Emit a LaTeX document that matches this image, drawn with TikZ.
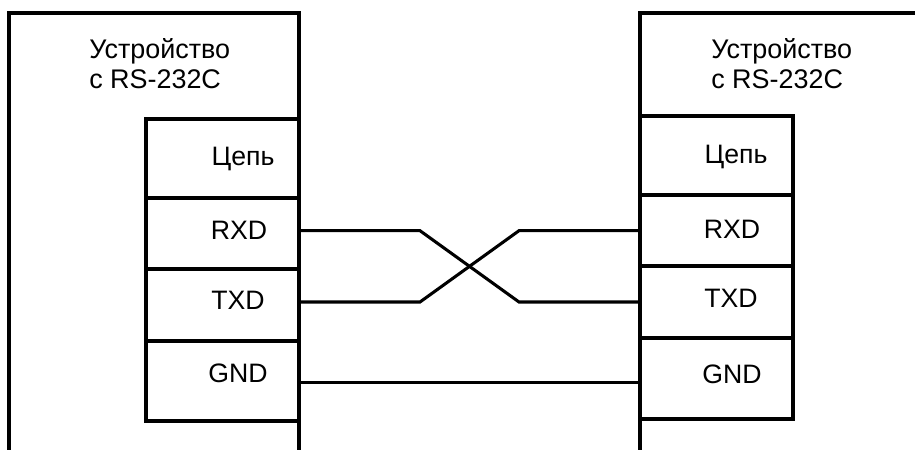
\documentclass[tikz,border=0pt]{standalone}
\usepackage{fontspec}
\setmainfont{Liberation Sans}
\tikzset{
  wire/.style={line width=2.3pt, line cap=butt, line join=miter},
  lbl/.style={font=\fontsize{20}{24}\selectfont, inner sep=0pt, anchor=base},
  lbl2/.style={font=\fontsize{20.2}{24}\selectfont, inner sep=0pt, anchor=base west},
}
\begin{document}
\begin{tikzpicture}[x=0.75pt,y=-0.75pt]
\useasboundingbox (0,0) rectangle (915,450);
\fill[white] (0,0) rectangle (915,450);
% left device
\draw[wire] (9,450) -- (9,13) -- (299,13) -- (299,119);
\draw[wire] (299,421) -- (299,450);
\draw[wire] (146,119) rectangle (299,421);
\draw[wire] (146,198) -- (299,198);
\draw[wire] (146,269) -- (299,269);
\draw[wire] (146,341) -- (299,341);
% right device
\draw[wire] (640,116) -- (640,13) -- (915,13);
\draw[wire] (640,419) -- (640,450);
\draw[wire] (640,116) rectangle (793,419);
\draw[wire] (640,195) -- (793,195);
\draw[wire] (640,266) -- (793,266);
\draw[wire] (640,338) -- (793,338);
% connectors
\coordinate (lr) at (299,230.7); \coordinate (lt) at (299,302); \coordinate (lg) at (299,382.3);
\coordinate (rr) at (640,230.7); \coordinate (rt) at (640,302); \coordinate (rg) at (640,382.3);
\draw[wire] (lr) -- (420,230.7) -- (519,302) -- (rt);
\draw[wire] (lt) -- (420,302) -- (519,230.7) -- (rr);
\draw[wire] (lg) -- (rg);
% labels
\node[lbl2] (a1) at (89,58) {Устройство};
\node[lbl2] (a2) at (89,88) {с RS-232C};
\node[lbl2] (b1) at (711,58) {Устройство};
\node[lbl2] (b2) at (711,88) {с RS-232C};
\node[lbl] (c1) at (243,165) {Цепь};
\node[lbl] (c2) at (239,239) {RXD};
\node[lbl] (c3) at (238,309) {TXD};
\node[lbl] (c4) at (238,382) {GND};
\node[lbl] (d1) at (736,163) {Цепь};
\node[lbl] (d2) at (732,238) {RXD};
\node[lbl] (d3) at (731,307) {TXD};
\node[lbl] (d4) at (732,383) {GND};
\end{tikzpicture}
\end{document}
